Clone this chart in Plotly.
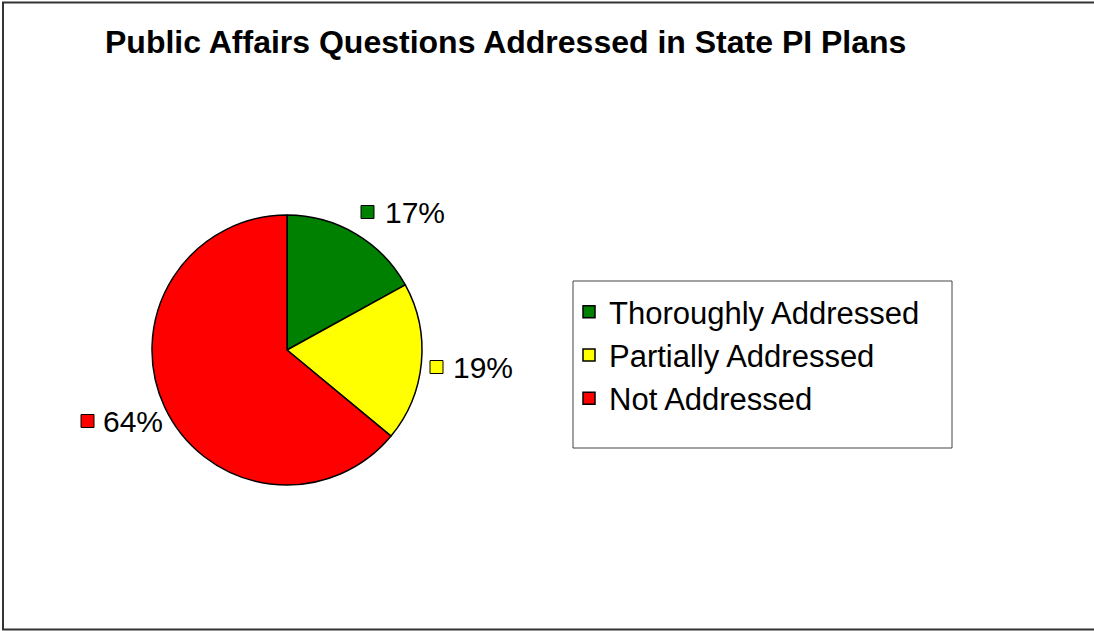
import plotly.graph_objects as go

# ---- data ----
categories = ["Thoroughly Addressed", "Partially Addressed", "Not Addressed"]
values = [17, 19, 64]
colors = ["#008000", "#FFFF00", "#FF0000"]
title_text = "Public Affairs Questions Addressed in State PI Plans"

W, H = 1094, 631
FONT = "Arial, Liberation Sans, sans-serif"

def px_x(x):
    return x / W

def px_y(y):
    return 1 - y / H

fig = go.Figure()
fig.add_trace(go.Pie(
    labels=categories,
    values=values,
    marker=dict(colors=colors, line=dict(color="black", width=1.5)),
    sort=False,
    direction="clockwise",
    rotation=0,
    textinfo="none",
    hoverinfo="label+percent",
    domain=dict(x=[px_x(152), px_x(422)], y=[px_y(485), px_y(215)]),
    showlegend=True,
))

# data labels: coloured square key + percentage text
label_pos = [(361, 212, 383), (430, 367, 451), (81, 421, 101)]  # square left, centre y, text left (px)
shapes = []
annotations = []
total = sum(values)
for (sq_x, cy, tx), v, c in zip(label_pos, values, colors):
    shapes.append(dict(type="rect", xref="paper", yref="paper",
                       x0=px_x(sq_x), x1=px_x(sq_x + 13),
                       y0=px_y(cy + 6.5), y1=px_y(cy - 6.5),
                       fillcolor=c, line=dict(color="black", width=1)))
    annotations.append(dict(text=f"{round(100 * v / total)}%", xref="paper", yref="paper",
                            x=px_x(tx), y=px_y(cy), xanchor="left", yanchor="middle",
                            showarrow=False, font=dict(family=FONT, size=30, color="black")))

# legend box
shapes.append(dict(type="rect", xref="paper", yref="paper",
                   x0=px_x(573), x1=px_x(952), y0=px_y(448), y1=px_y(281),
                   line=dict(color="#444444", width=1), fillcolor="rgba(0,0,0,0)"))
# outer chart border (left, top, bottom edges; right edge lies outside the image)
border = dict(color="#333333", width=2)
shapes.append(dict(type="line", xref="paper", yref="paper",
                   x0=px_x(3), x1=px_x(3), y0=px_y(629.5), y1=px_y(2.5), line=border))
shapes.append(dict(type="line", xref="paper", yref="paper",
                   x0=px_x(2), x1=1, y0=px_y(2.5), y1=px_y(2.5), line=border))
shapes.append(dict(type="line", xref="paper", yref="paper",
                   x0=px_x(2), x1=1, y0=px_y(629.5), y1=px_y(629.5), line=border))

annotations.append(dict(text=f"<b>{title_text}</b>", xref="paper", yref="paper",
                        x=px_x(505), y=px_y(42), xanchor="center", yanchor="middle",
                        showarrow=False, font=dict(family=FONT, size=32, color="black")))

fig.update_layout(
    width=W, height=H,
    margin=dict(l=0, r=0, t=0, b=0),
    paper_bgcolor="white",
    plot_bgcolor="white",
    showlegend=True,
    legend=dict(x=px_x(569), y=px_y(285), xanchor="left", yanchor="top",
                font=dict(family=FONT, size=31, color="black"),
                bgcolor="rgba(0,0,0,0)", borderwidth=0, traceorder="normal"),
    shapes=shapes,
    annotations=annotations,
)

fig.write_html(
    "out.html",
    config={"displayModeBar": False},
    post_script="document.body.style.margin='0';document.body.style.overflow='hidden';",
)
